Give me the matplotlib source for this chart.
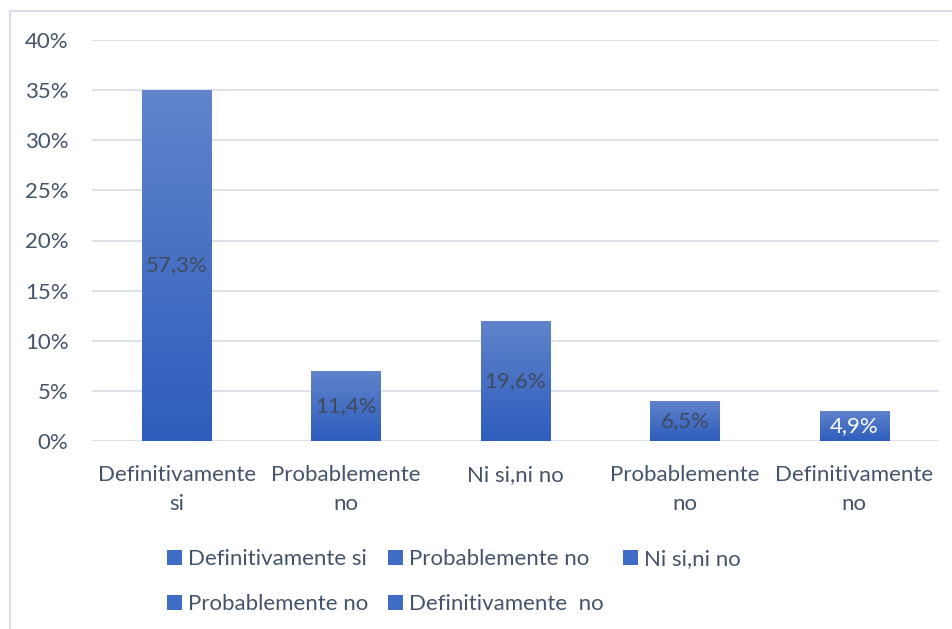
import numpy as np
import matplotlib.pyplot as plt
from matplotlib.colors import LinearSegmentedColormap
from matplotlib.patches import Patch, Rectangle

plt.rcParams['font.family'] = ['Lato', 'DejaVu Sans']
plt.rcParams['font.size'] = 16

# datos
categorias = ['Definitivamente\nsi', 'Probablemente\nno', 'Ni si,ni no',
              'Probablemente\nno', 'Definitivamente\nno']
valores = [0.35, 0.07, 0.12, 0.04, 0.03]
etiquetas = ['57,3%', '11,4%', '19,6%', '6,5%', '4,9%']
leyenda = ['Definitivamente si', 'Probablemente no', 'Ni si,ni no',
           'Probablemente no', 'Definitivamente  no']
yticks = [0, 0.05, 0.10, 0.15, 0.20, 0.25, 0.30, 0.35, 0.40]

texto = '#44546A'
grid = '#D9DEE8'
cmap = LinearSegmentedColormap.from_list('azul', ['#2D5DBD', '#6184CB'])

fig = plt.figure(figsize=(9.53, 6.29), dpi=100)
ax = fig.add_axes([92 / 953, 188 / 629, 847 / 953, 401 / 629])

x = np.arange(len(valores))
bars = ax.bar(x, valores, width=0.41, color='#4472C4', zorder=2)

# degradado dentro de cada barra
grad = np.linspace(0, 1, 256).reshape(-1, 1)
for b in bars:
    x0, w, h = b.get_x(), b.get_width(), b.get_height()
    im = ax.imshow(grad, extent=[x0, x0 + w, 0, h], origin='lower',
                   aspect='auto', cmap=cmap, zorder=3)
    im.set_clip_path(b)

for i, (v, t) in enumerate(zip(valores, etiquetas)):
    col = 'white' if i == len(valores) - 1 else '#404A5C'
    ax.text(i, v / 2, t, ha='center', va='center', color=col, fontsize=16, zorder=4)

ax.set_xlim(-0.5, len(valores) - 0.5)
ax.set_ylim(0, 0.4)
ax.set_yticks(yticks)
ax.set_yticklabels([f'{int(round(t * 100))}%' for t in yticks])
ax.set_xticks(x)
ax.set_xticklabels(categorias, linespacing=1.6)
ax.tick_params(axis='both', length=0, colors=texto, labelsize=16)
ax.tick_params(axis='y', pad=17)
ax.tick_params(axis='x', pad=17)
ax.grid(axis='y', color=grid, linewidth=1.3, zorder=0)
for s in ax.spines.values():
    s.set_visible(False)

# leyenda en dos filas (orden por filas)
handles = [Patch(facecolor='#3F6CC4', edgecolor='none') for _ in leyenda]
orden = [0, 3, 1, 4, 2]
leg = fig.legend([handles[i] for i in orden], [leyenda[i] for i in orden],
                 ncol=3, loc='upper left', bbox_to_anchor=(147 / 953, 1 - 529 / 629),
                 frameon=False, handlelength=0.68, handleheight=0.68,
                 handletextpad=0.25, columnspacing=0.9, labelspacing=1.13,
                 fontsize=16, labelcolor=texto)

# borde exterior
fig.patches.append(Rectangle((10 / 953, -0.1), 1.1, 1.1 - 11 / 629,
                             transform=fig.transFigure, fill=False,
                             edgecolor=grid, linewidth=1.5))

fig.savefig('out.png', dpi=100)
